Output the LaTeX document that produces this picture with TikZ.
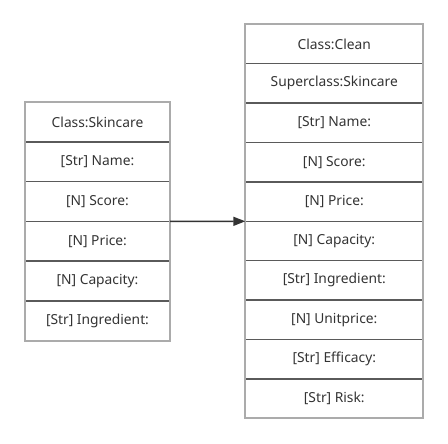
\documentclass[tikz,border=0pt]{standalone}
\usepackage{fontspec}
\setmainfont{Noto Sans}
\usetikzlibrary{positioning,arrows.meta}
\definecolor{celltext}{HTML}{333333}
\definecolor{cellline}{HTML}{5A5A5A}
\definecolor{frameline}{HTML}{ABABAB}
\tikzset{
  cell/.style={draw=cellline,line width=1.4pt,text=celltext,font=\fontsize{13.8}{15}\selectfont,
    inner sep=0pt,outer sep=0pt,anchor=north},
  leftcell/.style={cell,minimum width=145pt,minimum height=39.7pt},
  rightcell/.style={cell,minimum width=178pt,minimum height=39.4pt},
  frame/.style={draw=frameline,line width=2pt},
}
\begin{document}
\begin{tikzpicture}[x=1pt,y=-1pt]
\useasboundingbox (0,0) rectangle (448,444);

% left table
\node[leftcell] (l1) at (97.5,102.3) {Class:Skincare};
\foreach \t [count=\i from 2] in {{[Str] Name:},{[N] Score:},{[N] Price:},{[N] Capacity:},{[Str] Ingredient:}}{
  \pgfmathtruncatemacro\prev{\i-1}
  \node[leftcell,below=0pt of l\prev] (l\i) {\t};
}
\draw[frame] (l1.north west) rectangle (l6.south east);

% right table
\node[rightcell] (r1) at (334.3,24.3) {Class:Clean};
\foreach \t [count=\i from 2] in {Superclass:Skincare,{[Str] Name:},{[N] Score:},{[N] Price:},{[N] Capacity:},{[Str] Ingredient:},{[N] Unitprice:},{[Str] Efficacy:},{[Str] Risk:}}{
  \pgfmathtruncatemacro\prev{\i-1}
  \node[rightcell,below=0pt of r\prev] (r\i) {\t};
}
\draw[frame] (r1.north west) rectangle (r10.south east);

\draw[-{Triangle[length=12pt,width=9pt]},line width=1.5pt,draw=celltext] (l3.south east) -- (r5.south west);
\end{tikzpicture}
\end{document}
